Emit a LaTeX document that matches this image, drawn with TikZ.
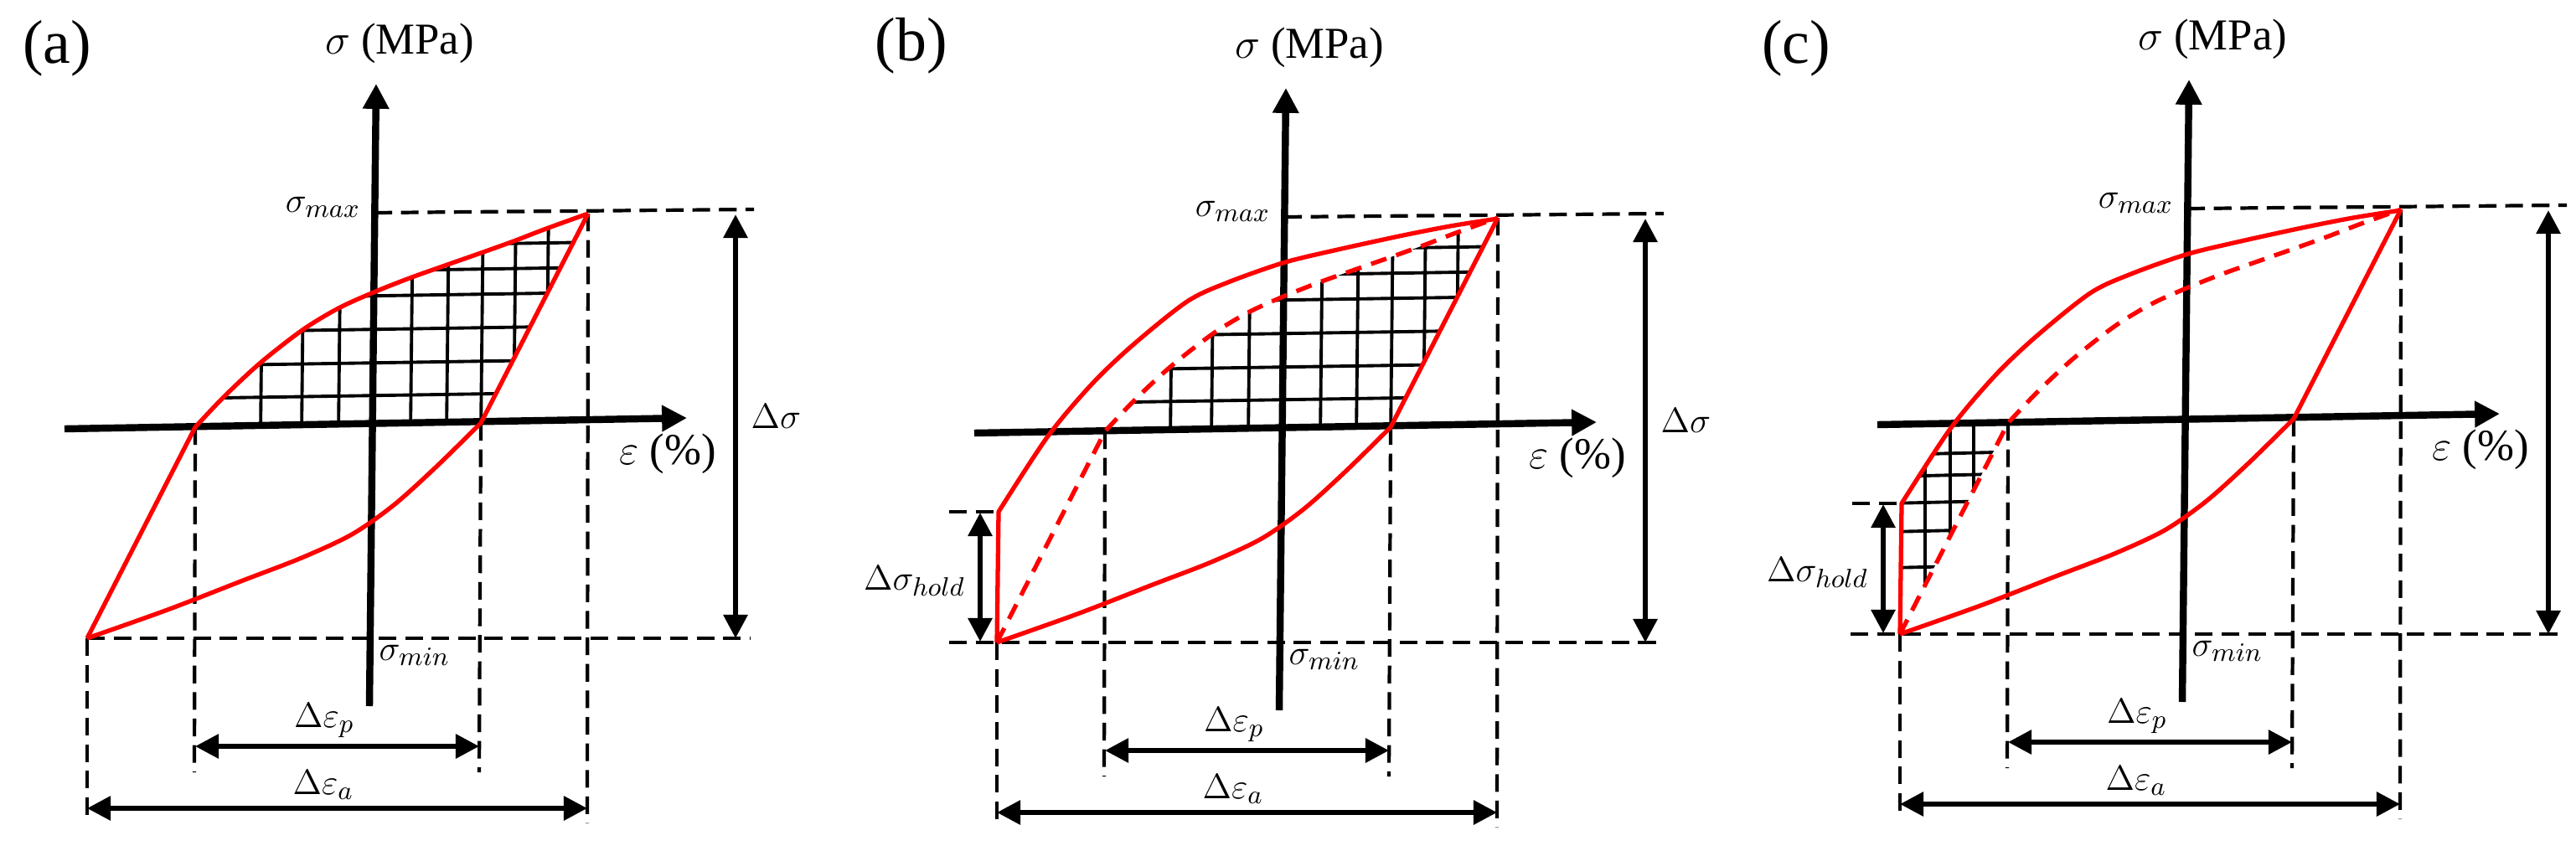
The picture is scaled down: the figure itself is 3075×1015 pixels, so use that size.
\documentclass[tikz,border=0pt]{standalone}
\usepackage{fontspec}
\setmainfont{Liberation Serif}
\usetikzlibrary{arrows.meta}

\newcommand\hystcommon[2]{%
  \coordinate (M#1) at (104,762);
  \coordinate (A#1) at (233,510);
  \coordinate (P#1) at (702,255);
  \coordinate (B#1) at (574,505);
  \coordinate (XL#1) at (77,512);
  \coordinate (XR#1) at (820,499);
  \coordinate (YB#1) at (441,843);
  \coordinate (YT#1) at (449,100);
  \coordinate (SXL#1) at (447,254);
  \coordinate (SXR#1) at (900,250);
  \coordinate (SNL#1) at (#2,762);
  \coordinate (SNR#1) at (896,762);
  \coordinate (VA#1) at (232,922);
  \coordinate (VB#1) at (572,922);
  \coordinate (VP#1) at (701,983);
  \coordinate (VM#1) at (104,983);
  \coordinate (DPL#1) at (233,891);
  \coordinate (DPR#1) at (572,891);
  \coordinate (DAL#1) at (104,965);
  \coordinate (DAR#1) at (701,965);
  \coordinate (DST#1) at (878,256);
  \coordinate (DSB#1) at (878,762);
  \draw[axisline] (XL#1) -- (XR#1);
  \draw[axisline] (YB#1) -- (YT#1);
  \draw[guide] (SXL#1) -- (SXR#1);
  \draw[guide] (SNL#1) -- (SNR#1);
  \draw[guide] (A#1) -- (VA#1);
  \draw[guide] (B#1) -- (VB#1);
  \draw[guide] (P#1) -- (VP#1);
  \draw[guide] (M#1) -- (VM#1);
  \draw[redline] (P#1) -- (B#1) -- plot[smooth] coordinates {(574,505) (520,558) (470,603) (420,638) (360,666) (290,693) (200,728) (104,762)};
  \draw[dimarrow] (DPL#1) -- (DPR#1);
  \draw[dimarrow] (DAL#1) -- (DAR#1);
  \draw[dimarrow] (DST#1) -- (DSB#1);
  \node[axlbl] (ylab#1) at (477,52) {$\sigma$ (MPa)};
  \node[axlbl] (xlab#1) at (797,542) {$\varepsilon$ (\%)};
  \node[lbl,anchor=base east] (smax#1) at (431,253) {$\sigma_{max}$};
  \node[lbl,anchor=base west] (smin#1) at (452,788) {$\sigma_{min}$};
  \node[lbl,anchor=base] (dep#1) at (387,868) {$\Delta\varepsilon_p$};
  \node[lbl,anchor=base] (dea#1) at (386,948) {$\Delta\varepsilon_a$};
}

\newcommand\gridab{%
  \begin{scope}
    \clip (233,510) -- plot[smooth] coordinates {(233,510) (268,473) (311,433) (361,394) (404,368) (446,349) (489,332) (534,316) (574,302) (613,288) (652,273) (702,255)} -- (574,505) -- cycle;
    \foreach \gx in {311,360,404,446,490,533,574,613,652} \draw[hatch] (\gx,520) -- ({\gx+3},240);
    \foreach \gy in {472,433,393,353,323,293} \draw[hatch] (200,{\gy+4}) -- (720,{\gy-4});
  \end{scope}
}

\newcommand\baseloop[2]{%
  \draw[#2] (M#1) -- (A#1) -- plot[smooth] coordinates {(233,510) (268,473) (311,433) (361,394) (404,368) (446,349) (489,332) (534,316) (574,302) (613,288) (652,273) (702,255)};
}

\newcommand\holdpart[1]{%
  \coordinate (H#1) at (106,606);
  \coordinate (HL#1) at (47,606);
  \coordinate (DHT#1) at (84,607);
  \coordinate (DHB#1) at (84,761);
  \draw[guide] (HL#1) -- (H#1);
  \draw[redline] (M#1) -- (H#1) -- plot[smooth] coordinates {(106,606) (164,517) (216,455) (265,408) (331,355) (380,332) (445,309) (502,295) (584,277) (645,265) (702,256)};
  \draw[dimarrow] (DHT#1) -- (DHB#1);
  \node[lbl,anchor=base east] (dsh#1) at (67,699) {$\Delta\sigma_{hold}$};
}

\begin{document}
\begin{tikzpicture}[x=0.1mm,y=-0.1mm,
  axisline/.style={line width=2.4pt,-{Triangle[length=8.5pt,width=8.5pt]}},
  dimarrow/.style={line width=1.7pt,{Triangle[length=8pt,width=8pt]}-{Triangle[length=8pt,width=8pt]}},
  guide/.style={line width=1.2pt,dash pattern=on 6pt off 3pt},
  redline/.style={draw=red,line width=1.5pt,line join=round},
  reddash/.style={draw=red,line width=1.5pt,dash pattern=on 5.5pt off 3.5pt},
  hatch/.style={line width=1.1pt},
  lbl/.style={inner sep=0pt,font=\fontsize{12.5}{15}\selectfont},
  axlbl/.style={inner sep=0pt,font=\fontsize{15}{18}\selectfont},
  panel/.style={inner sep=0pt,font=\fontsize{21}{25}\selectfont}]
\useasboundingbox (0,0) rectangle (3075,1015);

% panel (a)
\begin{scope}
  \gridab
  \hystcommon{a}{104}
  \baseloop{a}{redline}
  \node[lbl,anchor=base west] (dsa) at (896,511) {$\Delta\sigma$};
\end{scope}

% panel (b)
\begin{scope}[shift={(1086,5)}]
  \gridab
  \hystcommon{b}{47}
  \baseloop{b}{reddash}
  \holdpart{b}
  \node[lbl,anchor=base west] (dsb) at (896,511) {$\Delta\sigma$};
\end{scope}

% panel (c)
\begin{scope}[shift={(2164,-5)}]
  \begin{scope}
    \clip (40,513) -- (300,509) -- (300,800) -- (40,800) -- cycle;
    \clip (104,762) -- (106,606) -- plot[smooth] coordinates {(106,606) (164,517) (216,455) (265,408) (331,355) (380,332) (445,309) (502,295) (584,277) (645,265) (702,256)} -- (233,510) -- cycle;
    \foreach \gx in {134,164,192} \draw[hatch] (\gx,780) -- (\gx,500);
    \foreach \gy in {546,572,604,638,681} \draw[hatch] (90,{\gy+2}) -- (260,{\gy-2});
  \end{scope}
  \hystcommon{c}{45}
  \baseloop{c}{reddash}
  \holdpart{c}
\end{scope}

\node[panel] (pa) at (68,58) {(a)};
\node[panel] (pb) at (1088,55) {(b)};
\node[panel] (pc) at (2144,58) {(c)};
\end{tikzpicture}
\end{document}
